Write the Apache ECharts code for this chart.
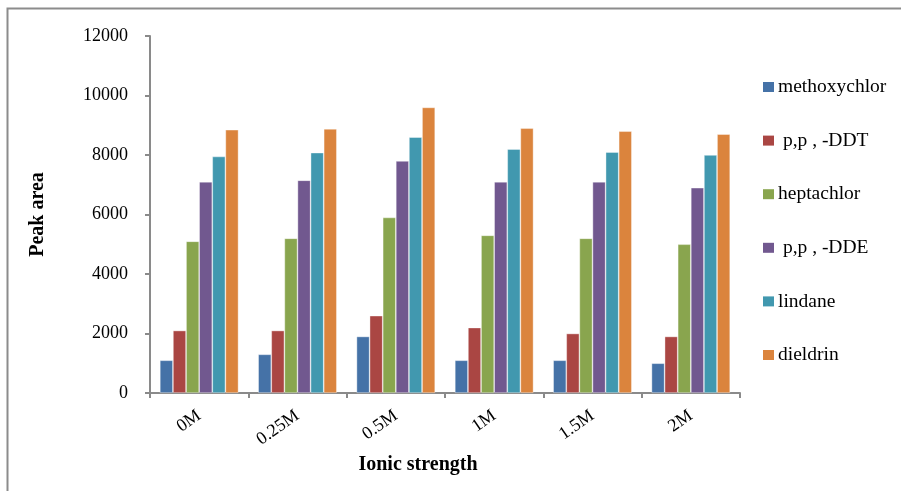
<!DOCTYPE html>
<html>
<head>
<meta charset="utf-8">
<script src="https://cdn.jsdelivr.net/npm/echarts@6/dist/echarts.min.js"></script>
<style>
  html, body { margin: 0; padding: 0; background: #fff; }
  #chart { width: 901px; height: 491px; }
</style>
</head>
<body>
<div id="chart"></div>
<script>
// Ionic strength levels on the x axis
const categories = ['0M', '0.25M', '0.5M', '1M', '1.5M', '2M'];

// Peak area per compound at each ionic strength
const methoxychlor = [1100, 1300, 1900, 1100, 1100, 1000];
const ppDDT        = [2100, 2100, 2600, 2200, 2000, 1900];
const heptachlor   = [5100, 5200, 5900, 5300, 5200, 5000];
const ppDDE        = [7100, 7150, 7800, 7100, 7100, 6900];
const lindane      = [7950, 8080, 8600, 8200, 8100, 8000];
const dieldrin     = [8850, 8880, 9600, 8900, 8800, 8700];

const seriesNames = ['methoxychlor', ' p,p , -DDT', 'heptachlor', ' p,p , -DDE', 'lindane', 'dieldrin'];
const seriesValues = [methoxychlor, ppDDT, heptachlor, ppDDE, lindane, dieldrin];
const colors = ['#4572A7', '#AA4643', '#89A54E', '#71588F', '#4198AF', '#DB843D'];

const serif = "'Liberation Serif', 'Times New Roman', serif";
const axisGray = '#8a8a8a';

const chart = echarts.init(document.getElementById('chart'), null, { renderer: 'canvas' });

chart.setOption({
  animation: false,
  backgroundColor: '#ffffff',
  color: colors,
  graphic: [{
    type: 'rect',
    shape: { x: 7.5, y: 8.5, width: 920, height: 500 },
    style: { fill: 'none', stroke: '#8c8c8c', lineWidth: 2 },
    silent: true
  }],
  grid: { left: 150, right: 161, top: 36, bottom: 98 },
  legend: {
    orient: 'vertical',
    left: 763,
    top: 77,
    padding: 0,
    itemWidth: 11,
    itemHeight: 10,
    itemGap: 33.6,
    icon: 'rect',
    itemStyle: { borderWidth: 0 },
    textStyle: { fontFamily: serif, fontSize: 19.5, color: '#000', lineHeight: 20, padding: [0, 0, 0, -1] },
    data: seriesNames
  },
  xAxis: {
    type: 'category',
    data: categories,
    name: 'Ionic strength',
    nameLocation: 'middle',
    nameGap: 59,
    nameTextStyle: { fontFamily: serif, fontSize: 20, fontWeight: 'bold', color: '#000', padding: [0, 54, 0, 0] },
    axisLine: { lineStyle: { color: axisGray, width: 2 } },
    axisTick: { show: true, length: 5, lineStyle: { color: axisGray, width: 2 } },
    axisLabel: { rotate: 35, margin: 21, fontFamily: serif, fontSize: 18, color: '#000' }
  },
  yAxis: {
    type: 'value',
    min: 0,
    max: 12000,
    interval: 2000,
    name: 'Peak area',
    nameLocation: 'middle',
    nameGap: 102,
    nameTextStyle: { fontFamily: serif, fontSize: 20, fontWeight: 'bold', color: '#000' },
    axisLine: { show: true, lineStyle: { color: axisGray, width: 2 } },
    axisTick: { show: true, length: 5, lineStyle: { color: axisGray, width: 2 } },
    axisLabel: { margin: 22, fontFamily: serif, fontSize: 18, color: '#000', formatter: (v) => String(v) },
    splitLine: { show: false }
  },
  series: seriesNames.map((name, i) => ({
    name: name,
    type: 'bar',
    data: seriesValues[i],
    barGap: 0,
    barCategoryGap: '20%',
    itemStyle: { color: colors[i], borderColor: 'rgba(255,255,255,0.55)', borderWidth: 0.7 }
  }))
});
</script>
</body>
</html>
